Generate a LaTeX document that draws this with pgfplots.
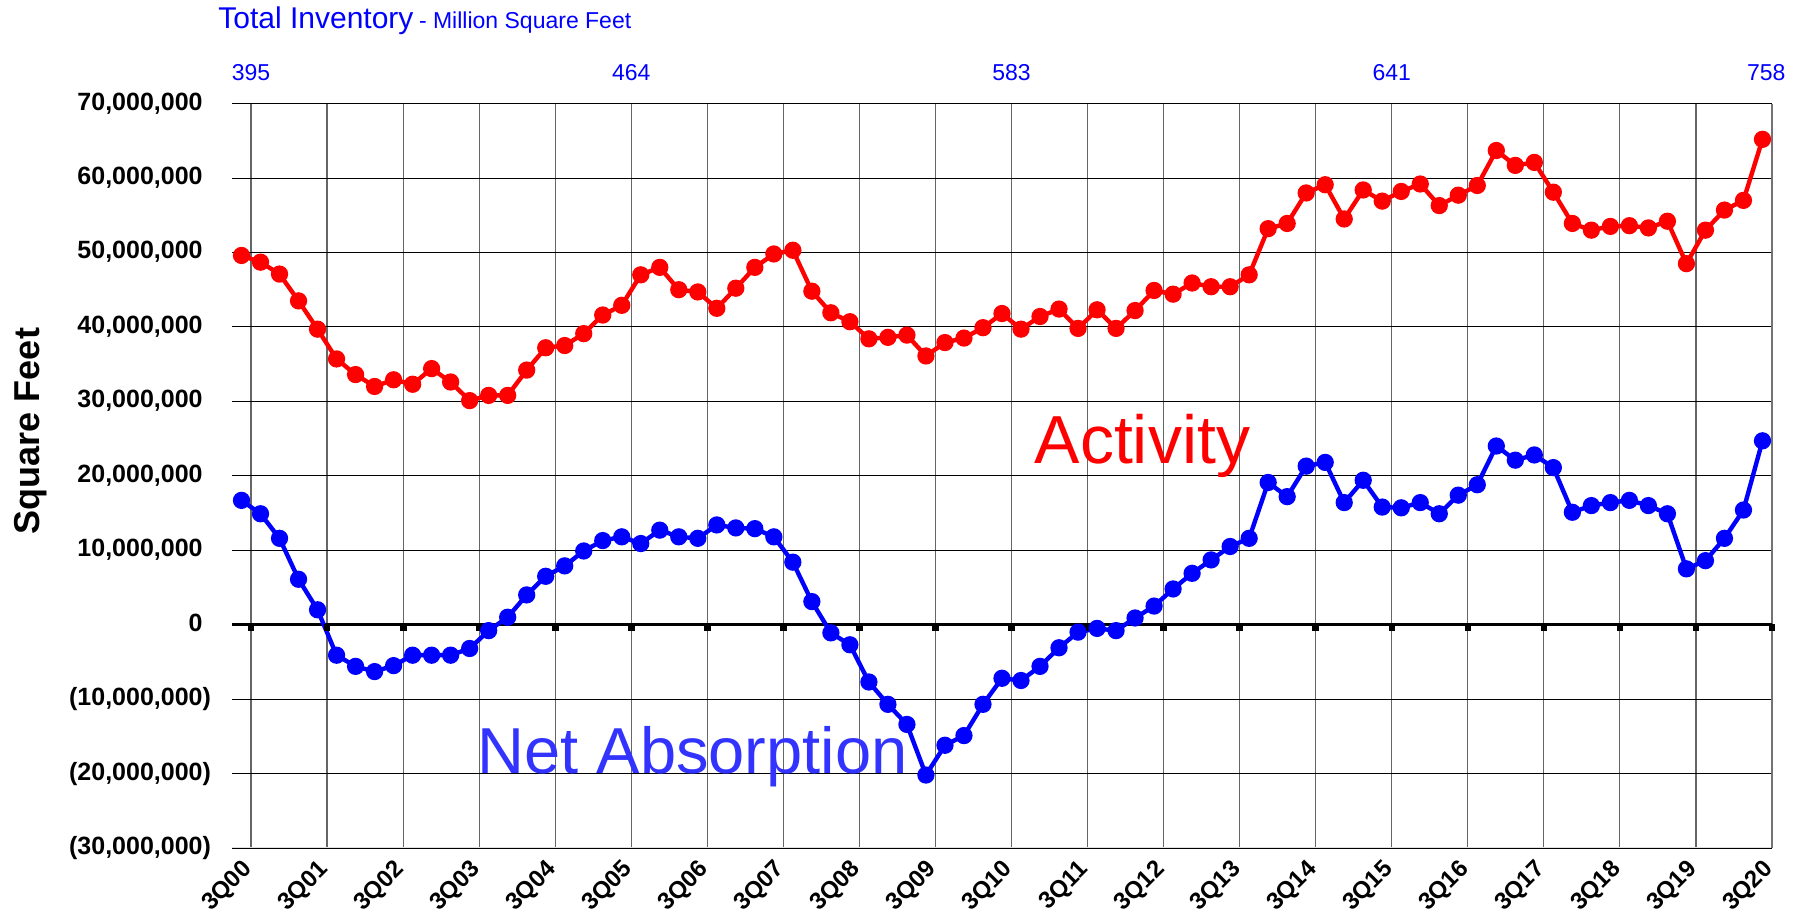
\documentclass[border=0pt]{standalone}
\usepackage{fontspec}
\setmainfont{Liberation Sans}
\usepackage{pgfplots}
\usepackage{pgfplotstable}
\pgfplotsset{compat=1.18}

% values in millions of square feet
\pgfplotstableread{
idx act abs
0 49.6 16.7
1 48.7 14.9
2 47.1 11.6
3 43.5 6.1
4 39.7 2.0
5 35.7 -4.1
6 33.6 -5.6
7 32.0 -6.3
8 32.9 -5.5
9 32.3 -4.1
10 34.4 -4.1
11 32.6 -4.1
12 30.1 -3.2
13 30.8 -0.8
14 30.8 1.0
15 34.2 4.0
16 37.2 6.5
17 37.5 7.9
18 39.1 9.9
19 41.6 11.3
20 42.9 11.8
21 47.0 10.9
22 48.0 12.7
23 45.0 11.8
24 44.7 11.6
25 42.5 13.4
26 45.2 13.0
27 48.0 12.9
28 49.8 11.8
29 50.3 8.4
30 44.8 3.1
31 41.9 -1.1
32 40.7 -2.7
33 38.4 -7.7
34 38.6 -10.7
35 38.9 -13.4
36 36.1 -20.2
37 37.9 -16.2
38 38.5 -14.9
39 39.9 -10.7
40 41.8 -7.2
41 39.7 -7.5
42 41.4 -5.6
43 42.4 -3.1
44 39.8 -1.0
45 42.3 -0.5
46 39.8 -0.8
47 42.2 0.9
48 44.9 2.5
49 44.4 4.8
50 45.9 6.9
51 45.4 8.7
52 45.4 10.5
53 47.0 11.6
54 53.2 19.1
55 53.9 17.2
56 58.0 21.3
57 59.1 21.8
58 54.5 16.4
59 58.4 19.4
60 56.9 15.8
61 58.2 15.7
62 59.2 16.4
63 56.3 14.9
64 57.7 17.4
65 59.0 18.8
66 63.7 24.0
67 61.7 22.1
68 62.1 22.8
69 58.1 21.1
70 53.9 15.1
71 53.0 16.0
72 53.5 16.4
73 53.6 16.7
74 53.3 16.0
75 54.2 14.9
76 48.5 7.5
77 53.0 8.6
78 55.7 11.6
79 57.0 15.4
80 65.2 24.7
}\data

\definecolor{actred}{HTML}{FF0000}
\definecolor{absblue}{HTML}{0000FF}
\definecolor{labblue}{HTML}{3333FF}

\begin{document}
\begin{tikzpicture}
\path[use as bounding box] (-116pt,-36pt) rectangle (784.5pt,424pt);
\begin{axis}[
  at={(0,0)}, anchor=south west,
  scale only axis, width=770pt, height=372.2pt,
  xmin=-0.5, xmax=80.5, ymin=-30, ymax=70,
  xtick={0.5,4.5,...,80.5},
  xticklabels={3Q00,3Q01,3Q02,3Q03,3Q04,3Q05,3Q06,3Q07,3Q08,3Q09,3Q10,3Q11,3Q12,3Q13,3Q14,3Q15,3Q16,3Q17,3Q18,3Q19,3Q20},
  ytick={-30,-20,...,70},
  yticklabels={{(30,000,000)},{(20,000,000)},{(10,000,000)},{0\phantom{)}},{10,000,000\phantom{)}},{20,000,000\phantom{)}},{30,000,000\phantom{)}},{40,000,000\phantom{)}},{50,000,000\phantom{)}},{60,000,000\phantom{)}},{70,000,000\phantom{)}}},
  grid=major,
  x grid style={black!60, line width=0.6pt},
  y grid style={black, line width=0.45pt},
  major tick length=0pt,
  axis line style={draw=none},
  yticklabel style={font=\bfseries\fontsize{12.5}{14}\selectfont, xshift=-7pt},
  xticklabel style={font=\bfseries\fontsize{12}{14}\selectfont, anchor=north east, inner sep=0pt, xshift=-5pt, yshift=-5pt, rotate=45},
  clip=false,
]
\draw[black!12, line width=0.5pt] (rel axis cs:0,0) -- (rel axis cs:1,0);
\draw[black!55, line width=0.6pt] (rel axis cs:1,0) -- (rel axis cs:1,1);
\addplot[black, line width=1.8pt] coordinates {(-0.5,0) (80.5,0)};
\addplot[only marks, mark=square*, mark size=1.4pt, mark options={yshift=-1.5pt, black}]
  coordinates {(0.5,0) (4.5,0) (8.5,0) (12.5,0) (16.5,0) (20.5,0) (24.5,0) (28.5,0) (32.5,0) (36.5,0) (40.5,0) (44.5,0) (48.5,0) (52.5,0) (56.5,0) (60.5,0) (64.5,0) (68.5,0) (72.5,0) (76.5,0) (80.5,0)};
\addplot[actred, line width=2.2pt, mark=*, mark size=3.2pt, mark options={fill=actred, draw=actred}] table[x=idx, y=act] {\data};
\addplot[absblue, line width=2.2pt, mark=*, mark size=3.2pt, mark options={fill=absblue, draw=absblue}] table[x=idx, y=abs] {\data};
\node[anchor=base west, text=actred, font=\fontsize{34}{40}\selectfont, inner sep=0pt] at (axis cs:41.7,21.6) {Activity};
\node[anchor=base west, text=labblue, font=\fontsize{32.5}{38}\selectfont, inner sep=0pt] at (axis cs:12.4,-20.0) {Net Absorption};
\node[text=absblue, font=\fontsize{11.5}{14}\selectfont, yshift=15.5pt] at (axis cs:0.5,70) {395};
\node[text=absblue, font=\fontsize{11.5}{14}\selectfont, yshift=15.5pt] at (axis cs:20.5,70) {464};
\node[text=absblue, font=\fontsize{11.5}{14}\selectfont, yshift=15.5pt] at (axis cs:40.5,70) {583};
\node[text=absblue, font=\fontsize{11.5}{14}\selectfont, yshift=15.5pt] at (axis cs:60.5,70) {641};
\node[text=absblue, font=\fontsize{11.5}{14}\selectfont, yshift=15.5pt] at (axis cs:80.2,70) {758};
\end{axis}
\node[anchor=west, text=absblue, inner sep=0pt] at (-7pt,413.5pt) {{\fontsize{15}{18}\selectfont Total Inventory} {\fontsize{11.5}{14}\selectfont - Million Square Feet}};
\node[rotate=90, font=\bfseries\fontsize{18}{22}\selectfont] at (-100.5pt,208.5pt) {Square Feet};
\end{tikzpicture}
\end{document}
